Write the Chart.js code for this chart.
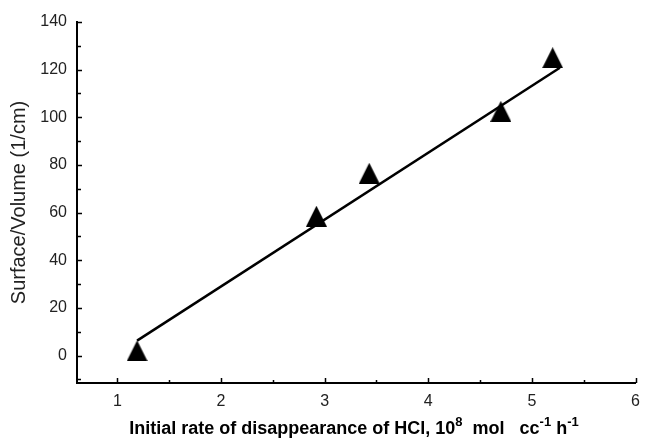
<!DOCTYPE html>
<html>
<head>
<meta charset="utf-8">
<script src="https://cdn.jsdelivr.net/npm/chart.js@4.4.0/dist/chart.umd.min.js"></script>
<style>
  html, body { margin: 0; padding: 0; background: #fff; }
  #wrap { width: 649px; height: 440px; }
</style>
</head>
<body>
<div id="wrap"><canvas id="rateChart" width="649" height="440"></canvas></div>
<script>
// Points mesurés
var rateValues = [1.19, 2.92, 3.43, 4.70, 5.20];
var surfaceValues = [2, 58.5, 76.5, 102.5, 125];

// Droite de régression (extrémités)
var fitX = [1.19, 5.27];
var fitY = [6.3, 120.8];

// Graduations
var xTickValues = [1, 2, 3, 4, 5, 6];
var yTickValues = [0, 20, 40, 60, 80, 100, 120, 140];
var xMinorValues = [1.5, 2.5, 3.5, 4.5, 5.5];
var yMinorValues = [-10, 10, 30, 50, 70, 90, 110, 130];

document.addEventListener('DOMContentLoaded', function() {
    // Marqueur triangle plein
    var tri = document.createElement('canvas');
    tri.width = 21;
    tri.height = 21;
    var tctx = tri.getContext('2d');
    tctx.fillStyle = '#000';
    tctx.beginPath();
    tctx.moveTo(10.5, 0);
    tctx.lineTo(21, 21);
    tctx.lineTo(0, 21);
    tctx.closePath();
    tctx.fill();

    var points = rateValues.map(function(x, i) {
        return { x: x, y: surfaceValues[i] };
    });
    var fitLine = fitX.map(function(x, i) {
        return { x: x, y: fitY[i] };
    });

    // Petites graduations tournées vers l'intérieur + titre X avec exposants
    var innerTicks = {
        id: 'innerTicks',
        afterDraw: function(chart) {
            var ctx = chart.ctx;
            var xs = chart.scales.x;
            var ys = chart.scales.y;
            var area = chart.chartArea;
            ctx.save();
            ctx.strokeStyle = '#000';
            ctx.lineWidth = 1.5;
            ctx.beginPath();
            yTickValues.concat(yMinorValues).forEach(function(v) {
                var py = Math.round(ys.getPixelForValue(v)) + 0.5;
                var len = yTickValues.indexOf(v) >= 0 ? 5 : 4;
                ctx.moveTo(area.left, py);
                ctx.lineTo(area.left + len, py);
            });
            xTickValues.concat(xMinorValues).forEach(function(v) {
                var px = Math.round(xs.getPixelForValue(v)) + 0.5;
                var len = xTickValues.indexOf(v) >= 0 ? 5 : 3;
                ctx.moveTo(px, area.bottom);
                ctx.lineTo(px, area.bottom - len);
            });
            ctx.stroke();

            var parts = [
                { t: 'Initial rate of disappearance of HCl, 10', sup: false },
                { t: '8', sup: true },
                { t: '  mol   cc', sup: false },
                { t: '-1', sup: true },
                { t: ' h', sup: false },
                { t: '-1', sup: true }
            ];
            var mainFont = 'bold 18px "Liberation Sans", Arial, sans-serif';
            var supFont = 'bold 13px "Liberation Sans", Arial, sans-serif';
            var total = 0;
            parts.forEach(function(p) {
                ctx.font = p.sup ? supFont : mainFont;
                p.w = ctx.measureText(p.t).width;
                total += p.w;
            });
            var x0 = 354 - total / 2;
            var base = 434;
            ctx.fillStyle = '#000';
            ctx.textBaseline = 'alphabetic';
            ctx.textAlign = 'left';
            parts.forEach(function(p) {
                ctx.font = p.sup ? supFont : mainFont;
                ctx.fillText(p.t, x0, p.sup ? base - 8 : base);
                x0 += p.w;
            });
            ctx.restore();
        }
    };

    var ctx = document.getElementById('rateChart').getContext('2d');
    var rateChart = new Chart(ctx, {
        type: 'scatter',
        data: {
            datasets: [{
                label: 'fit',
                data: fitLine,
                showLine: true,
                borderColor: '#000',
                borderWidth: 2.5,
                pointRadius: 0,
                fill: false
            }, {
                label: 'Surface/Volume',
                data: points,
                pointStyle: tri,
                pointRadius: 10,
                backgroundColor: '#000',
                borderColor: '#000'
            }]
        },
        options: {
            responsive: false,
            animation: false,
            layout: {
                padding: { left: 0, right: 4, top: 22, bottom: 0 }
            },
            plugins: {
                legend: { display: false },
                tooltip: { enabled: false }
            },
            scales: {
                x: {
                    type: 'linear',
                    min: 0.61,
                    max: 6,
                    grid: { display: false, drawTicks: false },
                    border: { display: true, color: '#000', width: 2 },
                    afterBuildTicks: function(scale) {
                        scale.ticks = xTickValues.map(function(v) { return { value: v }; });
                    },
                    afterFit: function(scale) {
                        scale.height = 57;
                    },
                    ticks: {
                        color: '#222',
                        padding: 9,
                        maxRotation: 0,
                        font: { family: '"Liberation Sans", Arial, sans-serif', size: 16 }
                    }
                },
                y: {
                    type: 'linear',
                    min: -11.5,
                    max: 140,
                    grid: { display: false, drawTicks: false },
                    border: { display: true, color: '#000', width: 2 },
                    afterBuildTicks: function(scale) {
                        scale.ticks = yTickValues.map(function(v) { return { value: v }; });
                    },
                    afterFit: function(scale) {
                        scale.width = 77;
                    },
                    ticks: {
                        color: '#222',
                        padding: 10,
                        font: { family: '"Liberation Sans", Arial, sans-serif', size: 16 }
                    },
                    title: {
                        display: true,
                        text: 'Surface/Volume (1/cm)',
                        color: '#222',
                        padding: { top: 7, bottom: 0 },
                        font: { family: '"Liberation Sans", Arial, sans-serif', size: 20 }
                    }
                }
            }
        },
        plugins: [innerTicks]
    });
});
</script>
</body>
</html>
